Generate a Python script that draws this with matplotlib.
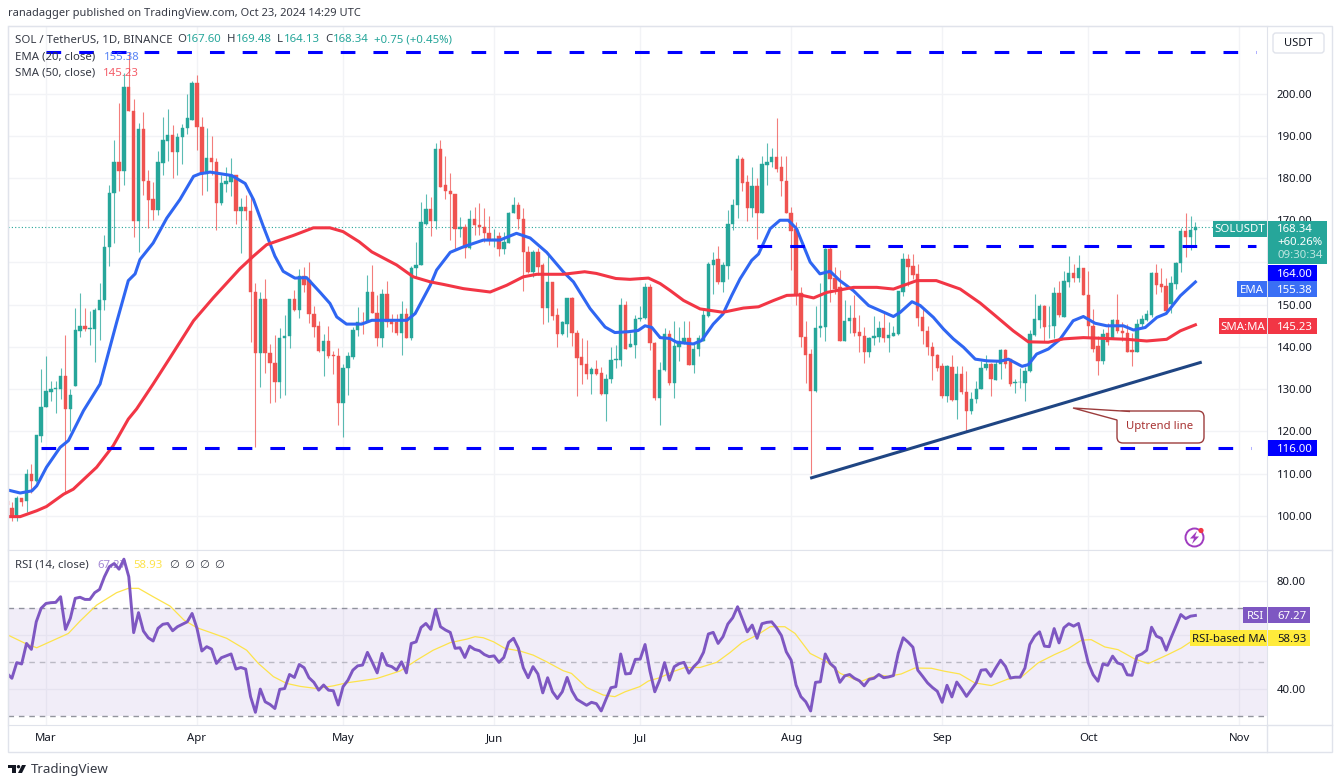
import matplotlib.pyplot as plt
from matplotlib.lines import Line2D
from matplotlib.patches import Circle, FancyBboxPatch, Polygon, Rectangle
from matplotlib.transforms import Affine2D

plt.rcParams["font.family"] = ["Noto Sans", "DejaVu Sans"]

GREEN = "#26a69a"
RED = "#ef5350"
BORDER = "#e0e3eb"
GRID = "#f2f3f6"
INK = "#131722"

# open, high, low, close - one row a day, first row is Feb 22
ohlc = [
    (103.5, 105.1, 101.7, 102.5), (101.8, 103.2, 98.8, 99.6), (99.6, 104.7, 98.8, 104.1), (104.1, 104.3, 102.4, 103.3),
    (103.4, 111.0, 100.8, 110.0), (110.0, 112.2, 105.5, 108.3), (108.3, 119.2, 107.9, 119.1), (119.0, 134.8, 117.4, 125.8),
    (125.7, 137.9, 125.7, 129.5), (129.4, 132.0, 127.2, 130.0), (130.1, 132.0, 124.3, 130.2), (130.0, 135.1, 127.6, 133.2),
    (133.2, 142.8, 105.5, 125.3), (125.3, 130.0, 120.1, 128.6), (130.8, 149.1, 130.8, 143.9), (143.8, 152.8, 142.3, 144.9),
    (144.9, 149.3, 143.8, 144.2), (144.3, 148.6, 140.4, 144.4), (144.2, 149.1, 136.5, 148.8), (148.8, 155.1, 141.7, 151.0),
    (151.0, 166.6, 148.8, 163.7), (163.7, 178.4, 159.1, 176.5), (176.5, 188.9, 164.6, 183.7), (183.7, 197.8, 176.9, 181.7),
    (181.7, 204.9, 178.4, 201.6), (201.6, 209.9, 195.8, 195.8), (195.8, 198.6, 166.0, 169.7), (169.7, 193.1, 162.4, 191.7),
    (191.7, 195.6, 175.9, 179.2), (179.2, 181.8, 168.2, 174.9), (175.0, 179.0, 170.1, 172.5), (172.4, 186.5, 171.3, 183.7),
    (183.6, 194.4, 180.8, 188.9), (188.7, 196.4, 184.0, 190.2), (190.2, 192.5, 179.9, 186.1), (186.1, 190.7, 180.8, 189.6),
    (189.6, 192.8, 183.3, 191.8), (191.8, 199.8, 190.5, 194.2), (193.7, 202.9, 193.7, 202.4), (202.4, 204.3, 186.7, 192.0),
    (192.0, 194.5, 175.9, 181.0), (181.0, 191.9, 176.9, 184.8), (184.8, 190.0, 180.8, 183.7), (183.8, 184.8, 167.8, 174.1),
    (174.0, 180.8, 173.5, 178.7), (178.6, 182.6, 176.8, 179.2), (179.1, 184.7, 175.7, 180.6), (180.6, 180.7, 169.2, 172.1),
    (172.1, 175.3, 162.2, 173.2), (173.2, 176.0, 170.1, 172.1), (172.1, 175.7, 141.2, 153.1), (153.1, 155.1, 116.2, 138.5),
    (138.5, 152.9, 130.6, 151.3), (151.3, 156.1, 133.8, 138.5), (138.5, 140.7, 126.6, 136.1), (136.1, 142.8, 126.9, 131.8),
    (131.8, 144.4, 127.8, 142.0), (142.0, 147.6, 128.6, 142.5), (142.5, 151.4, 139.8, 151.3), (151.3, 153.5, 148.6, 148.7),
    (148.7, 158.5, 146.8, 156.9), (156.9, 159.0, 153.0, 154.7), (155.9, 160.0, 145.6, 147.8), (147.8, 149.8, 142.3, 144.6),
    (144.9, 146.2, 138.7, 139.1), (139.1, 143.0, 133.0, 141.3), (141.3, 144.9, 137.3, 137.9), (138.1, 139.1, 133.6, 137.9),
    (137.8, 139.7, 121.5, 126.6), (126.6, 136.0, 118.7, 134.9), (134.9, 138.8, 128.5, 137.8), (137.6, 144.7, 137.2, 143.9),
    (143.9, 149.5, 142.6, 146.0), (146.0, 148.3, 143.1, 145.8), (145.8, 157.1, 145.8, 153.0), (153.0, 159.4, 148.0, 148.0),
    (148.0, 152.2, 140.2, 142.2), (142.2, 153.6, 140.0, 152.6), (152.6, 155.7, 144.6, 145.9), (146.3, 147.9, 143.6, 145.5),
    (145.9, 147.9, 142.8, 143.4), (143.4, 150.8, 138.0, 147.7), (147.7, 149.1, 142.0, 142.0), (142.0, 159.2, 141.6, 158.7),
    (158.7, 164.9, 156.6, 159.5), (159.5, 174.2, 159.4, 169.6), (169.2, 176.1, 168.8, 172.6), (172.6, 175.5, 166.3, 169.8),
    (169.8, 188.4, 167.9, 186.8), (186.8, 189.1, 177.9, 177.9), (178.3, 185.2, 175.1, 176.9), (177.0, 181.3, 165.3, 176.2),
    (176.3, 176.3, 163.1, 167.9), (167.9, 170.8, 166.0, 168.5), (168.4, 169.2, 161.1, 163.5), (163.5, 172.4, 163.3, 170.3),
    (170.3, 173.2, 166.5, 168.8), (168.8, 174.0, 166.6, 168.3), (168.4, 172.9, 164.9, 166.9), (167.0, 171.0, 164.1, 165.4),
    (165.3, 168.0, 163.7, 165.5), (166.3, 167.3, 161.6, 163.1), (163.1, 167.3, 161.9, 164.9), (164.7, 172.0, 164.5, 171.8),
    (171.8, 175.5, 171.6, 173.7), (173.7, 174.4, 167.9, 170.2), (170.2, 172.9, 153.2, 162.4), (162.5, 163.9, 157.6, 157.8),
    (157.8, 162.9, 156.6, 162.4), (162.4, 163.5, 157.0, 159.0), (159.4, 159.8, 145.5, 149.1), (149.2, 162.1, 145.8, 155.4),
    (155.4, 155.4, 146.3, 147.3), (147.5, 149.1, 140.0, 143.0), (143.0, 146.1, 142.8, 145.8), (145.5, 151.5, 142.4, 151.5),
    (151.6, 151.8, 140.2, 143.4), (143.4, 144.0, 128.3, 137.4), (137.5, 142.1, 131.3, 135.7), (136.0, 141.6, 132.3, 133.7),
    (133.7, 135.3, 128.9, 134.7), (134.7, 136.8, 133.3, 133.7), (133.8, 135.3, 128.5, 128.8), (128.8, 133.7, 122.4, 132.5),
    (132.4, 140.0, 131.5, 136.9), (136.8, 140.5, 135.0, 137.1), (137.0, 151.5, 135.5, 149.9), (149.9, 150.8, 139.5, 139.6),
    (140.0, 143.4, 139.9, 140.6), (140.4, 147.6, 137.4, 146.7), (146.6, 149.6, 146.2, 146.9), (146.8, 155.2, 146.7, 154.2),
    (154.2, 155.0, 139.2, 140.9), (140.9, 141.2, 127.4, 127.8), (127.8, 136.5, 121.4, 134.5), (134.5, 144.4, 134.3, 143.1),
    (143.1, 144.0, 131.0, 131.4), (131.4, 146.2, 128.0, 140.1), (140.0, 144.6, 136.6, 141.5), (141.0, 146.2, 140.7, 142.0),
    (142.0, 146.2, 135.7, 135.7), (135.7, 140.7, 133.9, 139.5), (139.4, 142.8, 137.9, 142.0), (141.5, 149.1, 141.5, 147.6),
    (147.4, 160.1, 147.0, 159.7), (159.4, 162.4, 152.5, 160.6), (160.7, 163.9, 154.9, 155.3), (155.3, 160.1, 153.1, 159.3),
    (159.1, 172.5, 156.1, 169.2), (169.2, 175.1, 167.6, 173.7), (173.5, 185.4, 170.5, 184.6), (184.6, 185.0, 176.9, 178.9),
    (179.1, 180.8, 169.7, 172.9), (172.9, 182.6, 170.8, 178.1), (178.1, 179.9, 165.6, 171.8), (171.8, 185.2, 171.8, 183.3),
    (183.0, 188.4, 178.3, 183.8), (183.7, 187.0, 182.6, 185.0), (185.0, 194.3, 181.4, 182.2), (182.6, 185.2, 175.7, 179.2),
    (179.2, 185.2, 171.6, 171.6), (171.8, 173.1, 158.1, 167.4), (168.0, 169.6, 150.0, 152.3), (152.7, 154.1, 139.9, 142.3),
    (142.3, 146.2, 131.4, 138.1), (138.3, 139.5, 110.0, 129.6), (129.6, 149.8, 129.4, 144.4), (144.4, 155.2, 142.3, 144.9),
    (144.6, 163.4, 141.5, 163.2), (163.2, 163.6, 150.7, 156.1), (156.3, 158.9, 152.5, 153.7), (154.1, 158.1, 141.5, 141.5),
    (141.5, 151.0, 141.5, 146.2), (146.2, 149.9, 143.4, 146.8), (146.8, 152.3, 142.6, 143.4), (143.6, 147.6, 138.7, 142.5),
    (142.5, 144.6, 136.3, 138.9), (138.9, 142.3, 137.7, 142.0), (142.0, 147.4, 140.5, 142.5), (142.4, 146.2, 141.1, 144.4),
    (144.4, 148.6, 141.1, 142.0), (142.2, 145.8, 138.9, 142.8), (142.7, 145.0, 142.5, 143.3), (143.0, 153.3, 142.8, 153.3),
    (153.1, 162.3, 152.0, 160.7), (160.7, 162.0, 154.5, 158.9), (159.1, 162.0, 156.1, 157.1), (157.3, 159.7, 145.0, 146.8),
    (147.0, 149.1, 140.7, 143.8), (143.8, 145.0, 138.1, 139.9), (139.9, 141.1, 132.2, 137.9), (138.1, 138.3, 134.3, 134.9),
    (135.4, 136.3, 128.0, 128.4), (128.4, 135.6, 127.0, 135.4), (135.2, 138.1, 127.2, 127.5), (127.5, 135.5, 122.9, 133.6),
    (133.6, 135.5, 128.8, 129.4), (129.4, 134.3, 120.1, 124.8), (124.8, 129.4, 124.0, 127.6), (127.6, 132.0, 126.8, 130.1),
    (130.0, 136.7, 130.0, 135.1), (134.9, 138.1, 134.6, 135.9), (135.9, 136.3, 128.4, 132.4), (132.2, 136.7, 132.2, 135.9),
    (135.9, 139.6, 132.4, 139.3), (139.3, 139.6, 134.9, 135.9), (137.1, 137.1, 130.8, 131.2), (131.4, 132.4, 129.1, 131.6),
    (131.6, 135.1, 130.2, 131.8), (131.4, 135.3, 127.2, 134.4), (134.4, 144.1, 134.1, 143.0), (142.8, 152.5, 142.6, 146.6),
    (146.4, 150.1, 144.4, 149.7), (149.7, 149.9, 141.5, 144.8), (144.9, 149.6, 142.2, 145.0), (144.9, 154.1, 142.2, 152.7),
    (152.7, 155.6, 147.2, 147.5), (147.0, 158.0, 147.0, 155.6), (155.3, 161.6, 154.1, 157.6), (157.6, 159.6, 155.3, 156.4),
    (156.4, 161.8, 155.3, 158.6), (158.6, 158.6, 152.3, 152.3), (152.3, 158.0, 142.2, 145.0), (145.0, 148.9, 138.7, 139.6),
    (140.3, 142.6, 133.3, 136.7), (136.7, 144.2, 135.9, 143.0), (143.2, 145.6, 140.5, 141.2), (142.2, 146.6, 142.2, 146.4),
    (146.4, 152.5, 143.4, 143.8), (143.8, 145.8, 141.5, 143.3), (143.3, 145.4, 138.7, 138.9), (139.3, 143.4, 135.5, 138.9),
    (138.9, 146.6, 138.7, 145.4), (145.4, 147.5, 144.8, 146.6), (146.4, 148.8, 146.2, 147.8), (147.5, 157.8, 147.0, 157.6),
    (157.6, 159.6, 152.5, 154.6), (154.9, 158.6, 152.9, 154.2), (154.5, 156.4, 147.8, 148.5), (150.1, 156.7, 148.0, 155.1),
    (154.9, 160.0, 153.7, 159.9), (159.8, 168.1, 157.8, 167.5), (167.5, 171.7, 161.2, 166.1), (166.1, 171.0, 163.0, 167.6),
    (167.60, 169.48, 164.13, 168.34),
]
days = list(range(-8, len(ohlc) - 8))  # 0 is Mar 1

ema_days = [-7.8, -5.3, -2.9, -1.9, 0.1, 2.9, 4.6, 7.7, 11.1, 14.5, 16.9, 18.3, 19.3, 22, 24.8, 27.5, 30.3, 31.6, 33.7, 38.1,
            40.9, 42.6, 44.6, 47, 48.7, 51.1, 53.5, 56.3, 58.3, 59.7, 61.7, 64.8, 66.9, 70, 74.1, 75.8, 78.9, 80.2, 83, 85.7,
            89.8, 93.2, 96.6, 99.4, 102.8, 106.2, 108.3, 111.7, 114.8, 116.8, 119.6, 121.6, 123, 124.4, 126.1, 128.1, 129.5,
            132.9, 134.6, 137, 139, 140.8, 142.5, 144.9, 146.3, 148.7, 150.7, 152.4, 154.1, 156.9, 158.9, 161, 163, 165.8,
            168.9, 174, 175.4, 177.8, 179.5, 182.2, 184.3, 186.3, 188.4, 190.8, 193.2, 195.9, 197.6, 200.4, 201.7, 203.4,
            205.8, 208.2, 210.9, 213, 215.4, 217.8, 221.2, 223.3, 225.7, 228.1, 230, 232.9, 236]
ema = [106.1, 105.4, 105.9, 107.1, 111.5, 116.2, 117.8, 124.9, 131.2, 145.8, 155.7, 157.3, 160.7, 164.6, 170.5, 174.9, 180.4,
       181, 181.4, 180.6, 178.7, 174.9, 168.6, 161.5, 157.9, 156.3, 156.4, 152.9, 150.3, 147.1, 145.4, 145.4, 146.3, 146.3,
       146.3, 147.9, 154.6, 158.2, 162.4, 163.7, 165.3, 165.3, 166.9, 165.8, 162.4, 157.8, 155.4, 149.1, 144.7, 143.4, 143.6,
       143.9, 145, 144.6, 142.2, 142, 141.1, 140.7, 141.5, 145.4, 147.8, 152.2, 156.1, 160.5, 162, 168, 170, 170, 168, 160.1,
       157.3, 157.9, 155.7, 153.3, 149.8, 147.2, 148.2, 150.7, 149.8, 147, 144.2, 141.9, 139.9, 137.1, 136.7, 136.6, 137.1,
       135.4, 135.8, 138.3, 139.5, 141.8, 146.2, 147.2, 145.6, 145, 145, 144, 144.6, 147, 147.9, 152.1, 155.38]

sma_days = [-7.8, -5.3, -1.9, 0.1, 3.6, 5.6, 10.4, 13.8, 16.9, 18.6, 22, 25.5, 30.3, 34.4, 39.8, 42.6, 45.3, 50.8, 54.9, 58.3,
            61, 64.3, 66.9, 72, 75.4, 78.9, 81.6, 85.7, 91.2, 94.6, 98, 100.8, 106.2, 110.6, 113, 117, 119.9, 123.7, 126.1,
            128.1, 130.9, 134.3, 139, 143.2, 146.3, 149.4, 152.1, 154.9, 157.6, 160.3, 165.8, 170.6, 174, 178.8, 182.8, 187.7,
            191.8, 194.5, 198.6, 201.7, 205.8, 208.9, 213, 221.9, 226, 230.1, 232.9, 236]
sma = [99.8, 99.8, 101.2, 102.2, 105.1, 106.3, 111.5, 116.6, 122.9, 125.3, 131.2, 137.5, 146.2, 151.7, 158.5, 161.5, 164.2,
       166.4, 168.2, 168.2, 167.3, 164.9, 162.5, 159.4, 156.6, 155.4, 154.8, 153.8, 153, 154.6, 156.6, 157.2, 157.2, 157.8,
       157.4, 156.2, 156, 156.3, 155, 153.4, 151, 149, 148.2, 149.2, 149.5, 151, 152.2, 152.3, 151.6, 152.9, 154.1, 154.1,
       153.7, 155.7, 155.7, 153.7, 150.4, 147.8, 143.8, 141.2, 141.1, 141.9, 142.2, 141.8, 141.4, 141.8, 143.8, 145.23]

rsi = [45.8, 44, 49.8, 49.3, 56.9, 54.7, 64.9, 69.9, 71.7, 72, 72.1, 74.2, 62.1, 66.2, 73.6, 74, 73.2, 73.2, 75.7, 76.9,
       81.6, 85.3, 86.5, 84.4, 88.1, 81.6, 60.9, 68.3, 61.5, 59, 57.8, 62.5, 64, 64.3, 61.6, 63.1, 64, 64.9, 68, 62.5,
       54.1, 55.7, 54.8, 49.5, 51.6, 52.3, 53, 47.4, 48, 47.4, 37.2, 31.4, 40, 35.3, 34.3, 32.8, 39.9, 40.2, 45.4, 44.3,
       49.1, 47.9, 44.2, 42.5, 39.6, 41.5, 39.6, 39.4, 34.1, 40.9, 43.3, 47, 48.6, 48.9, 53.6, 49.9, 46, 53.2, 48.9, 48.3,
       47, 50.1, 46, 56.9, 57.5, 62.8, 64.3, 62.1, 69.5, 63.1, 61.9, 61, 55.1, 55.3, 51.7, 55.9, 54.7, 54.2, 52.8, 52,
       52.3, 49.9, 51.7, 57.3, 58.8, 55.1, 47.9, 44.2, 48.3, 45.6, 38.6, 44.2, 39, 36.5, 39, 44.3, 39.3, 36.2, 35.1, 34,
       35.1, 34.6, 31.9, 36.3, 40.5, 40.9, 53, 45.6, 45.8, 51, 51.1, 56.5, 46.7, 39, 43.3, 49.8, 43.3, 48.3, 49.4, 49.9,
       45.9, 48.3, 50.1, 53.6, 60.4, 61, 56.9, 59.4, 64.1, 66.4, 70.5, 65.9, 61.2, 63.7, 58.8, 64.2, 64.7, 64.9, 62.7, 59.8,
       53.8, 50.7, 41.5, 37.2, 35.3, 31.9, 42.5, 42.7, 53, 49.5, 47.9, 42.5, 44.9, 45.4, 44, 43.1, 41.2, 43.6, 44, 45.4,
       44.2, 44.5, 45, 53.4, 59, 57.4, 55.5, 47, 44.7, 42.3, 40.6, 39.2, 35.1, 41.4, 37.1, 42.6, 40.1, 37.3, 39.8, 42.3,
       47, 47.2, 44.7, 47.8, 50.7, 48.4, 44.1, 44.4, 44.4, 47.8, 56.5, 59.6, 61.2, 55.9, 55.7, 62.4, 57.1, 62.7, 64.2, 63.3,
       64.3, 57.1, 49.7, 45.3, 42.9, 49.3, 48.8, 52.2, 49.7, 49.1, 45.3, 45.1, 52.2, 53, 54.4, 62.9, 59.6, 58.8, 54.4, 59,
       63.3, 67.6, 66.1, 67, 67.27]
rsi_days = list(range(-8, len(rsi) - 8))

rsi_ma_days = [-7.8, -4, -1.9, 0.8, 4.6, 7, 10.4, 14.5, 16.9, 19, 22, 25.5, 28.3, 31, 33.7, 37.1, 41.2, 43.6, 46.7, 49.4, 52.2,
               55.6, 59, 61.7, 67.9, 72.7, 76.1, 79.5, 83, 86.4, 88.1, 89.8, 91.9, 94.2, 97.3, 100, 102.8, 106.2, 107.9, 111,
               114.4, 116.8, 118.9, 121.9, 123.7, 126, 128.8, 131.2, 134.3, 137.7, 140.5, 142.9, 146, 148.7, 151.7, 153.8,
               156.9, 160.3, 163.1, 167.2, 169.2, 171.2, 172.9, 175.6, 178.4, 181.8, 184.5, 187.6, 190.7, 194.1, 197.5,
               200.3, 203.7, 207.1, 209.9, 212.6, 214.6, 217.4, 220.1, 223.5, 226.3, 230.4, 233.1, 235.2, 236]
rsi_ma = [60, 56.7, 55.3, 57.5, 60.6, 65.2, 71.1, 75.7, 77.3, 77.3, 74.2, 70.7, 65.6, 62.7, 61, 58.8, 54.4, 49.5, 44.6, 42.1, 41,
          40.2, 41.2, 42.3, 43.9, 46.7, 50.7, 54.4, 57.2, 58.5, 59.4, 59, 57.5, 55.1, 54.1, 52.6, 50.1, 46.8, 45.8, 40.6,
          37.8, 37.2, 39, 40.9, 43, 44.2, 46.5, 48, 48, 49.9, 53.6, 57.2, 60, 63.1, 63.1, 60.6, 53.2, 50.1, 45.8, 42.7, 44.2,
          45.2, 44.7, 45.6, 47.8, 47.7, 46.6, 45.6, 42.3, 41.3, 43.7, 44.5, 49.7, 52.8, 55, 58.1, 58.3, 55.6, 54.6, 51.2,
          49.4, 52.8, 55.2, 57.7, 58.93]

month_days = [0, 31, 61, 92, 122, 153, 184, 214, 245]
month_names = ["Mar", "Apr", "May", "Jun", "Jul", "Aug", "Sep", "Oct", "Nov"]
x_range = (-7.8, 250.7)

fig = plt.figure(figsize=(13.38, 7.84), dpi=100)
px = Affine2D().scale(1, -1).translate(0, 784)  # page furniture goes in pixels

# price pane
ax = plt.axes([8 / 1338, 1 - 550 / 784, 1259 / 1338, 524 / 784])
colors = [GREEN if c >= o else RED for o, h, l, c in ohlc]
plt.vlines(days, [row[2] for row in ohlc], [row[1] for row in ohlc], colors=colors, linewidth=0.8, alpha=0.75, zorder=2)
plt.bar(days, [row[3] - row[0] for row in ohlc], bottom=[row[0] for row in ohlc], width=0.7, color=colors,
        edgecolor=colors, linewidth=0.3, zorder=3)
plt.plot(ema_days, ema, color="#2f66f2", linewidth=2.2, solid_joinstyle="round", zorder=4)
plt.plot(sma_days, sma, color="#f23645", linewidth=2.2, solid_joinstyle="round", zorder=4)
plt.plot([157.2, 237], [109, 136.3], color="#1f4583", linewidth=2.2, zorder=5)
plt.axhline(168.34, color=GREEN, linewidth=0.8, linestyle=(0, (1, 2)), zorder=1)
# support and resistance
plt.plot([0, 248.5], [209.8, 209.8], color="#0000ff", linewidth=2.2, dashes=(4.8, 5.9), zorder=5)
plt.plot([146, 248.5], [164, 164], color="#0000ff", linewidth=2.2, dashes=(4.8, 5.9), zorder=5)
plt.plot([-1, 247.5], [116, 116], color="#0000ff", linewidth=2.2, dashes=(4.8, 5.9), zorder=5)
plt.xlim(x_range)
plt.ylim(91.9, 216)
plt.xticks(month_days, [])
# 160 sits under the last price block, so it gets no label
plt.yticks(range(100, 201, 10), [f"{v:.2f}" if v != 160 else "" for v in range(100, 201, 10)], fontsize=8.2, color=INK)
ax.yaxis.tick_right()
plt.tick_params(length=0, pad=7)
plt.grid(color=GRID, linewidth=1)
ax.set_axisbelow(True)
for spine in ax.spines.values():
    spine.set_color(BORDER)

# rsi pane
ax2 = plt.axes([8 / 1338, 1 - 725 / 784, 1259 / 1338, 175 / 784])
plt.axhspan(30, 70, color="#7e57c2", alpha=0.1, linewidth=0, zorder=1)
for level, shade in [(70, 0.8), (50, 0.45), (30, 0.8)]:
    plt.axhline(level, color="#787b86", linewidth=1, dashes=(4, 3.5), alpha=shade, zorder=2)
over = plt.fill_between(rsi_days, 70, rsi, where=[r >= 70 for r in rsi], interpolate=True, color="none")
shade = plt.imshow([[(0.3, 0.69, 0.31, a / 40)] for a in range(32, -1, -1)], extent=(x_range[0], x_range[1], 70, 91),
                   aspect="auto", zorder=3)
shade.set_clip_path(over.get_paths()[0], transform=ax2.transData)
plt.plot(rsi_ma_days, rsi_ma, color="#fde34b", linewidth=0.9, zorder=4)
plt.plot(rsi_days, rsi, color="#7e57c2", linewidth=2.1, zorder=5)
plt.xlim(x_range)
plt.ylim(26.7, 91.5)
plt.xticks(month_days, month_names, fontsize=8.2, color=INK)
plt.yticks([40, 60, 80], ["40.00", "", "80.00"], fontsize=8.2, color=INK)
ax2.yaxis.tick_right()
plt.tick_params(length=0, pad=7)
plt.tick_params(axis="x", pad=6)
plt.grid(color=GRID, linewidth=1)
ax2.set_axisbelow(True)
for spine in ax2.spines.values():
    spine.set_color(BORDER)


def tag(axis, shown_at, text, fill, width=49, label=None, left=None, ink="white"):
    # the scale pushes crowded labels apart, so shown_at can differ from the value
    y = 784 - axis.transData.transform((0, shown_at))[1]
    fig.add_artist(Rectangle((1268, y - 8), width, 16, transform=px, fc=fill, ec="none", zorder=10))
    fig.text(1277, y, text, transform=px, color=ink, fontsize=8.2, va="center_baseline", zorder=11)
    if label:
        fig.add_artist(Rectangle((left, y - 8), 1267 - left, 16, transform=px, fc=fill, ec="none", zorder=10))
        fig.text((left + 1267) / 2, y, label, transform=px, color=ink, fontsize=8.2, ha="center", va="center_baseline", zorder=11)


tag(ax, 157.6, "164.00", "#0000ff")
tag(ax, 153.7, "155.38", "#3a6ff5", label="EMA", left=1237)
tag(ax, 145.0, "145.23", "#f23645", label="SMA:MA", left=1219)
tag(ax, 116, "116.00", "#0000ff")
tag(ax2, 67.27, "67.27", "#7e57c2", width=42, label="RSI", left=1243)
tag(ax2, 58.93, "58.93", "#ffeb3b", width=42, label="RSI-based MA", left=1190, ink=INK)
# last price block
fig.add_artist(Rectangle((1268, 221), 59, 43, transform=px, fc="#26a69a", ec="none", zorder=10))
fig.add_artist(Rectangle((1213, 221), 54, 16, transform=px, fc="#26a69a", ec="none", zorder=10))
fig.text(1240, 229, "SOLUSDT", transform=px, color="white", fontsize=8.2, ha="center", va="center", zorder=11)
fig.text(1277, 229, "168.34", transform=px, color="white", fontsize=8.2, va="center", zorder=11)
fig.text(1277, 242.5, "+60.26%", transform=px, color="white", fontsize=8.2, va="center", zorder=11)
fig.text(1277, 256, "09:30:34", transform=px, color="#bfe6e1", fontsize=8.2, va="center", zorder=11)

# frame around the panes
fig.add_artist(Rectangle((8, 26), 1324, 726, transform=px, fill=False, ec=BORDER, lw=1))
fig.add_artist(Line2D([1267, 1332], [550, 550], transform=px, color=BORDER, lw=1))
fig.add_artist(Line2D([1267, 1332], [725, 725], transform=px, color=BORDER, lw=1))
fig.add_artist(Line2D([1267, 1267], [725, 752], transform=px, color=BORDER, lw=1))
fig.add_artist(FancyBboxPatch((1273, 33), 51, 20, boxstyle="round,pad=0,rounding_size=3", transform=px, fc="white", ec=BORDER, lw=1))
fig.text(1298.5, 43, "USDT", transform=px, color=INK, fontsize=8, ha="center", va="center")

# header and legends
fig.text(8, 13.5, "ranadagger published on TradingView.com, Oct 23, 2024 14:29 UTC", transform=px, color="#363a45", fontsize=8, va="center")
legend_row = [(15, "SOL / TetherUS, 1D, BINANCE", "#363a45"), (177, "O", "#363a45"), (186, "167.60", GREEN), (227, "H", "#363a45"),
              (236, "169.48", GREEN), (277, "L", "#363a45"), (284, "164.13", GREEN), (325, "C", "#363a45"), (333, "168.34", GREEN),
              (374, "+0.75 (+0.45%)", GREEN)]
for x, s, c in legend_row:
    fig.text(x, 40, s, transform=px, color=c, fontsize=8.2, va="center", zorder=12)
fig.text(15, 57, "EMA (20, close)", transform=px, color="#363a45", fontsize=8.2, va="center", zorder=12)
fig.text(104, 57, "155.38", transform=px, color="#2f66f2", fontsize=8.2, alpha=0.8, va="center", zorder=12)
fig.text(15, 73, "SMA (50, close)", transform=px, color="#363a45", fontsize=8.2, va="center", zorder=12)
fig.text(103, 73, "145.23", transform=px, color="#f23645", fontsize=8.2, alpha=0.8, va="center", zorder=12)
fig.text(15, 565, "RSI (14, close)", transform=px, color="#363a45", fontsize=8.2, va="center", zorder=12)
fig.text(97, 565, "67.27", transform=px, color="#7e57c2", fontsize=8.2, alpha=0.7, va="center", zorder=12)
fig.text(133, 565, "58.93", transform=px, color="#fde34b", fontsize=8.2, va="center", zorder=12)
for x in [169, 184, 199, 214]:
    fig.text(x, 565, "∅", transform=px, color="#363a45", fontsize=8.2, va="center", zorder=12)

# callout
fig.add_artist(FancyBboxPatch((1117, 411), 87, 32, boxstyle="round,pad=0,rounding_size=6", transform=px, fc="white", ec="#9c3c3c", lw=1))
fig.add_artist(Polygon([(1117, 420), (1073, 408), (1130, 411.5)], closed=False, transform=px, fc="white", ec="#9c3c3c", lw=1))
fig.text(1160, 426.5, "Uptrend line", transform=px, color="#a83232", fontsize=8.2, ha="center", va="center")

# lightning badge
fig.add_artist(Circle((1194.5, 537.5), 9, transform=px, fill=False, ec="#a03cc0", lw=1.4))
fig.add_artist(Polygon([(1197, 531), (1190, 538.5), (1194, 538.5), (1192, 544), (1199, 536.5), (1195, 536.5)], transform=px, fc="#a03cc0", ec="none"))
fig.add_artist(Circle((1201, 530.5), 2.6, transform=px, fc="#f23645", ec="none"))

# footer logo
fig.add_artist(Rectangle((8, 765), 8, 3, transform=px, fc=INK, ec="none"))
fig.add_artist(Rectangle((12, 765), 3.5, 8, transform=px, fc=INK, ec="none"))
fig.add_artist(Circle((18.5, 766.7), 1.7, transform=px, fc=INK, ec="none"))
fig.add_artist(Polygon([(22, 765), (26, 765), (22, 773), (18, 773)], transform=px, fc=INK, ec="none"))
fig.text(30.5, 770, "TradingView", transform=px, color="#363a45", fontsize=9.6, va="center")

plt.savefig("out.png", dpi=100)
